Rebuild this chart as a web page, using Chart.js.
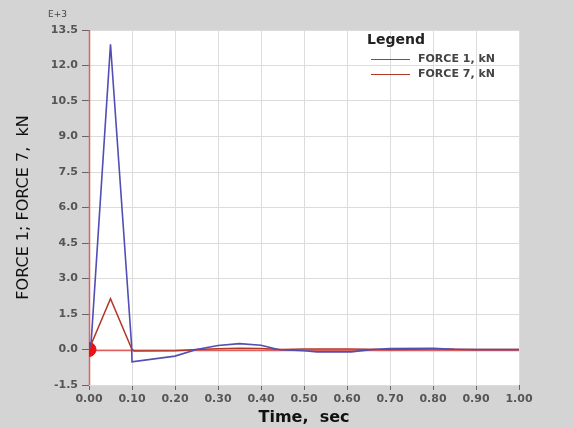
<!DOCTYPE html>
<html>
<head>
<meta charset="utf-8">
<script src="https://cdn.jsdelivr.net/npm/chart.js@4/dist/chart.umd.min.js"></script>
<style>
  html, body { margin: 0; padding: 0; background: #d4d4d4; }
  #wrap { width: 573px; height: 427px; position: relative; }
</style>
</head>
<body>
<div id="wrap"><canvas id="chart"></canvas></div>
<script>
// Temps (s) et efforts (E+3 kN)
const TIME_F1 = [0, 0.005, 0.05, 0.099, 0.1, 0.2, 0.25, 0.3, 0.35, 0.4, 0.44, 0.5, 0.53, 0.61, 0.66, 0.7, 0.8, 0.85, 0.9, 1.0];
const FORCE_1 = [0, 0.3, 12.9, 0.2, -0.52, -0.28, 0, 0.17, 0.25, 0.18, 0, -0.05, -0.1, -0.1, 0, 0.04, 0.05, 0.01, 0, 0];

const TIME_F7 = [0, 0.05, 0.1, 0.105, 0.2, 0.25, 0.3, 0.35, 0.4, 0.45, 0.5, 0.6, 0.7, 0.8, 0.9, 1.0];
const FORCE_7 = [0, 2.15, 0, -0.06, -0.05, 0, 0.03, 0.05, 0.04, 0, 0.02, 0.02, 0, 0.02, 0, 0];

const ORIGIN_T = [0];
const ORIGIN_F = [0];

const SERIES_LABELS = ["FORCE 1, kN", "FORCE 7, kN"];
const SERIES_COLORS = ["#4f4fb4", "#b03828"];

const Y_MIN = -1.5, Y_MAX = 13.5, Y_STEP = 1.5;
const X_MIN = 0, X_MAX = 1, X_STEP = 0.1;

const FONT = "'DejaVu Sans', Verdana, sans-serif";

const toPoints = (xs, ys) => xs.map((x, i) => ({ x, y: ys[i] }));

// Fond gris + zone de tracé blanche
const bgPlugin = {
  id: "bg",
  beforeDraw(chart) {
    const { ctx, chartArea: a } = chart;
    ctx.save();
    ctx.fillStyle = "#d4d4d4";
    ctx.fillRect(0, 0, chart.width, chart.height);
    ctx.fillStyle = "#ffffff";
    ctx.fillRect(a.left, a.top, a.right - a.left, a.bottom - a.top);
    ctx.restore();
  },
};

// Axes rouges passant par l'origine (t = 0, F = 0)
const zeroAxesPlugin = {
  id: "zeroAxes",
  beforeDatasetsDraw(chart) {
    const { ctx, chartArea: a, scales } = chart;
    const x0 = Math.round(scales.x.getPixelForValue(0)) + 0.5;
    const y0 = Math.round(scales.y.getPixelForValue(0)) + 0.5;
    ctx.save();
    ctx.strokeStyle = "#e06060";
    ctx.lineWidth = 1.5;
    ctx.beginPath();
    ctx.moveTo(a.left, y0);
    ctx.lineTo(a.right, y0);
    ctx.moveTo(x0, a.top);
    ctx.lineTo(x0, a.bottom);
    ctx.stroke();
    ctx.restore();
  },
};

// Légende et multiplicateur "E+3" dessinés à la main
const legendPlugin = {
  id: "customLegend",
  afterDraw(chart) {
    const { ctx } = chart;
    ctx.save();
    ctx.textBaseline = "middle";
    ctx.textAlign = "left";
    ctx.fillStyle = "#444";
    ctx.font = `9px ${FONT}`;
    ctx.fillText("E+3", 48, 15);

    ctx.font = `bold 14px ${FONT}`;
    ctx.fillStyle = "#222";
    ctx.fillText("Legend", 367, 40);

    ctx.font = `bold 11px ${FONT}`;
    SERIES_LABELS.forEach((label, i) => {
      const y = 59 + i * 15;
      ctx.strokeStyle = SERIES_COLORS[i];
      ctx.lineWidth = 1;
      ctx.beginPath();
      ctx.moveTo(371, y + 0.5);
      ctx.lineTo(410, y + 0.5);
      ctx.stroke();
      ctx.fillStyle = "#444";
      ctx.fillText(label, 418, y);
    });
    ctx.restore();
  },
};

const tickFont = { family: FONT, size: 11, weight: "bold" };

new Chart(document.getElementById("chart"), {
  type: "line",
  data: {
    datasets: [
      {
        label: SERIES_LABELS[0],
        data: toPoints(TIME_F1, FORCE_1),
        borderColor: SERIES_COLORS[0],
        borderWidth: 1.6,
        pointRadius: 0,
        tension: 0,
      },
      {
        label: SERIES_LABELS[1],
        data: toPoints(TIME_F7, FORCE_7),
        borderColor: SERIES_COLORS[1],
        borderWidth: 1.5,
        pointRadius: 0,
        tension: 0,
      },
      {
        label: "origin",
        data: toPoints(ORIGIN_T, ORIGIN_F),
        showLine: false,
        pointRadius: 7,
        pointBackgroundColor: "#ee1111",
        pointBorderColor: "#ee1111",
      },
    ],
  },
  options: {
    responsive: true,
    maintainAspectRatio: false,
    animation: false,
    layout: { padding: { top: 30, right: 54, left: 14, bottom: 0 } },
    plugins: { legend: { display: false }, tooltip: { enabled: false } },
    scales: {
      x: {
        type: "linear",
        min: X_MIN,
        max: X_MAX,
        border: { display: false },
        grid: { color: "#dcdcdc", tickColor: "#666", tickLength: 5, lineWidth: 1 },
        ticks: {
          stepSize: X_STEP,
          color: "#555",
          font: tickFont,
          callback: (v) => Number(v).toFixed(2),
          maxRotation: 0,
          padding: 3,
        },
        title: {
          display: true,
          text: "Time,  sec",
          color: "#111",
          font: { family: FONT, size: 16, weight: "bold" },
          padding: { top: 0, bottom: 0 },
        },
        afterFit: (s) => { s.height = 42; },
      },
      y: {
        min: Y_MIN,
        max: Y_MAX,
        border: { display: false },
        grid: { color: "#dcdcdc", tickColor: "#666", tickLength: 7, lineWidth: 1 },
        ticks: {
          stepSize: Y_STEP,
          color: "#555",
          font: tickFont,
          callback: (v) => Number(v).toFixed(1),
          padding: 4,
        },
        title: {
          display: true,
          text: "FORCE 1; FORCE 7,  kN",
          color: "#111",
          font: { family: FONT, size: 16 },
          padding: { top: 0, bottom: 0 },
        },
        afterFit: (s) => { s.width = 75; },
      },
    },
  },
  plugins: [bgPlugin, zeroAxesPlugin, legendPlugin],
});
</script>
</body>
</html>
